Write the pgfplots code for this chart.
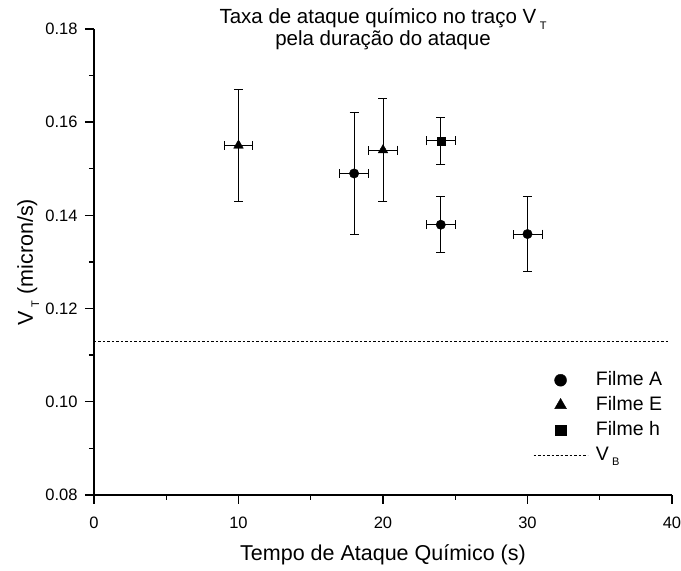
\documentclass[border=0pt]{standalone}
\usepackage{fontspec}
\setmainfont{Liberation Sans}
\usepackage{pgfplots}
\pgfplotsset{compat=1.18}
\usepackage{pgfplotstable}

\pgfplotstableread{
x y ex ey
18 0.149 1 0.013
24 0.138 1 0.006
30 0.136 1 0.008
}\filmeA
\pgfplotstableread{
x y ex ey
10 0.155 1 0.012
20 0.154 1 0.011
}\filmeE
\pgfplotstableread{
x y ex ey
24 0.156 1 0.005
}\filmeH

\newcommand{\sub}[1]{\,\raisebox{-0.55ex}{\fontsize{11}{11}\selectfont #1}}

\begin{document}
\begin{tikzpicture}
\path[use as bounding box] (0,0) rectangle (681pt,571pt);
\begin{axis}[
  at={(94pt,76pt)}, anchor=south west,
  scale only axis, width=578pt, height=466pt,
  xmin=0, xmax=40, ymin=0.08, ymax=0.18,
  axis x line*=bottom, axis y line*=left,
  axis line style={line width=1.6pt},
  xtick={0,10,20,30,40},
  ytick={0.08,0.10,0.12,0.14,0.16,0.18},
  minor x tick num=1, minor y tick num=1,
  tick align=outside,
  major tick length=9pt, minor tick length=5pt,
  major tick style={line width=1.4pt, black},
  minor tick style={line width=1.4pt, black},
  /pgf/number format/assume math mode=true,
  yticklabel style={/pgf/number format/fixed, /pgf/number format/fixed zerofill, /pgf/number format/precision=2, font=\fontsize{16.5}{16}\selectfont, xshift=-4pt},
  xticklabel style={font=\fontsize{16.5}{16}\selectfont, yshift=-9pt},
  scaled y ticks=false,
  clip=false,
  title={Taxa de ataque químico no traço V\sub{T}\\pela duração do ataque},
  title style={at={(axis description cs:0.5,1)}, anchor=center, yshift=-6pt, align=center, font=\fontsize{20.5}{22}\selectfont},
  xlabel={Tempo de Ataque Químico (s)},
  xlabel style={at={(axis description cs:0.5,0)}, anchor=base, yshift=-65pt, font=\fontsize{21.5}{22}\selectfont},
  ylabel={V\sub{T} (micron/s)},
  ylabel style={at={(axis description cs:0,0.5)}, anchor=base, yshift=61pt, font=\fontsize{21.5}{22}\selectfont},
  legend style={draw=none, fill=none, inner sep=0pt, at={(axis description cs:0.7595,0.266)}, anchor=north west, row sep=7pt, font=\fontsize{19.5}{20}\selectfont, legend cell align=left, nodes={inner sep=0pt, text height=14pt, text depth=4pt}},
  legend image code/.code={\draw[mark repeat=2,mark phase=2,#1] plot coordinates {(0pt,0pt) (27pt,0pt) (54pt,0pt)}; \path (62pt,0pt);},
  error bars/error bar style={line width=0.9pt, black},
  error bars/error mark options={rotate=90, mark size=4.5pt, line width=0.9pt, black},
]
\addplot[only marks, mark=*, mark size=4.7pt, black,
  legend image post style={mark size=6pt},
  error bars/.cd, x dir=both, x explicit, y dir=both, y explicit]
  table[x=x, y=y, x error=ex, y error=ey] {\filmeA};
\addlegendentry{Filme A}
\addplot[only marks, mark=triangle*, mark size=5.6pt, black,
  legend image post style={mark size=6.8pt},
  error bars/.cd, x dir=both, x explicit, y dir=both, y explicit]
  table[x=x, y=y, x error=ex, y error=ey] {\filmeE};
\addlegendentry{Filme E}
\addplot[only marks, mark=square*, mark size=4pt, black,
  legend image post style={mark size=5.3pt},
  error bars/.cd, x dir=both, x explicit, y dir=both, y explicit]
  table[x=x, y=y, x error=ex, y error=ey] {\filmeH};
\addlegendentry{Filme h}
\addplot[black, line width=0.8pt, dash pattern=on 2.5pt off 2pt, mark=none]
  coordinates {(0,0.113) (39.7,0.113)};
\addlegendentry{V\sub{B}}
\end{axis}
\end{tikzpicture}
\end{document}
